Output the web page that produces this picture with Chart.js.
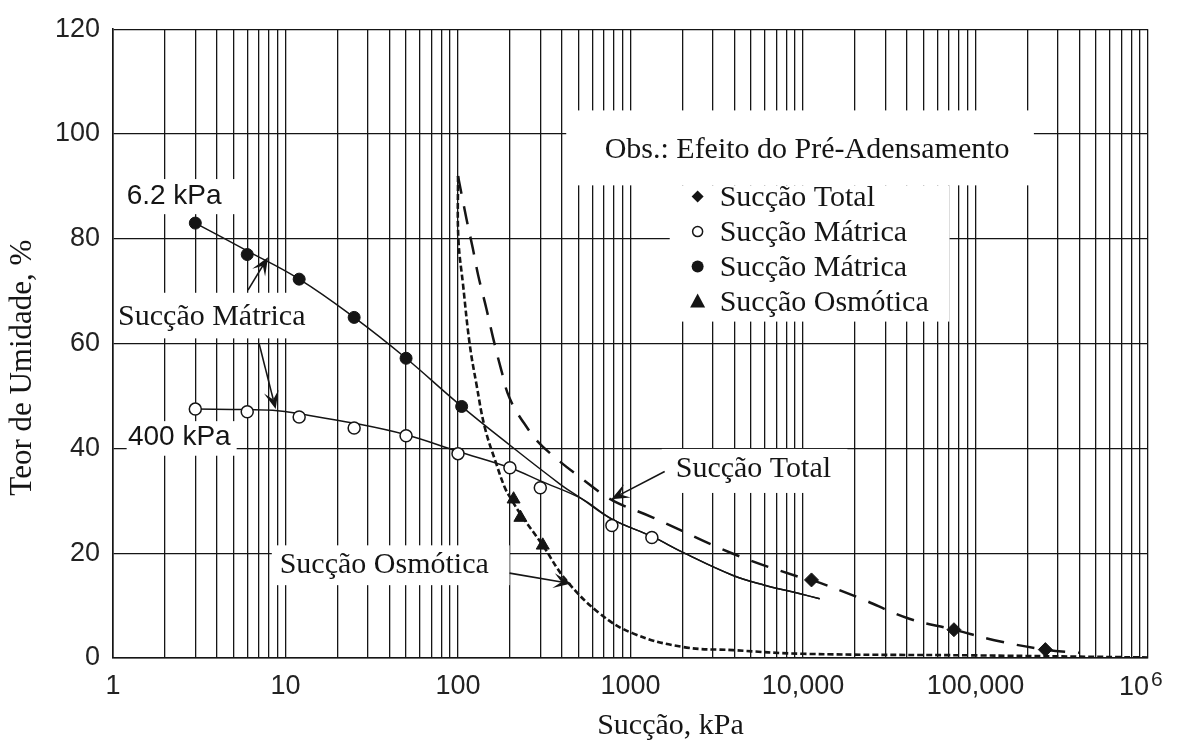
<!DOCTYPE html>
<html lang="pt">
<head>
<meta charset="utf-8">
<title>Teor de umidade x sucção</title>
<script src="https://cdn.jsdelivr.net/npm/chart.js@4.4.1/dist/chart.umd.min.js"></script>
<style>
  html, body { margin: 0; padding: 0; background: #fff; }
  #wrap { width: 1178px; height: 740px; }
</style>
</head>
<body>
<div id="wrap"><canvas id="suctionChart" width="1178" height="740"></canvas></div>
<script>
// Sucção mátrica, pré-adensamento 6.2 kPa (círculos cheios)
const matric62X = [3, 6, 12, 25, 50, 105];
const matric62Y = [83, 77, 72.3, 65, 57.2, 48];

// Sucção mátrica, pré-adensamento 400 kPa (círculos abertos)
const matric400X = [3, 6, 12, 25, 50, 100, 200, 300, 780, 1330];
const matric400Y = [47.5, 47, 46, 43.9, 42.4, 39, 36.3, 32.5, 25.3, 23];

// Sucção total (losangos)
const totalX = [11200, 75000, 254000];
const totalY = [14.9, 5.4, 1.6];

// Sucção osmótica (triângulos)
const osmoticX = [210, 230, 310];
const osmoticY = [30.3, 26.8, 21.5];

// Curvas traçadas
const matric62CurveX = [3, 6, 12, 25, 50, 100, 200, 390, 520, 780, 1330, 2000, 3900, 6000, 9500, 12500];
const matric62CurveY = [83, 77.7, 72.3, 65, 57.2, 48.6, 40.6, 33.2, 30.4, 26.5, 23.2, 20.2, 15.8, 13.9, 12.3, 11.3];
const matric400CurveX = [3, 6, 9, 12, 25, 50, 100, 200, 300, 520, 780, 1330, 2000, 3900, 6000, 9500, 12500];
const matric400CurveY = [47.5, 47.4, 47.2, 46.6, 44.8, 42.6, 39.4, 36.3, 33.8, 30.4, 26.5, 23.2, 20.2, 15.8, 13.9, 12.3, 11.3];
const totalCurveX = [100, 112, 122, 131, 146, 160, 179, 199, 244, 311, 612, 795, 1350, 3930, 9600, 11200, 20700, 41300, 75000, 128600, 254000, 401000];
const totalCurveY = [92, 83.8, 78.1, 73, 66.7, 61, 54.7, 49.6, 44.6, 40.3, 32.5, 30, 26.8, 19.9, 15.4, 14.9, 11.6, 7.5, 5.4, 3.4, 1.6, 1.0];
const osmoticCurveX = [100, 100.5, 107, 117, 128, 143, 167, 187, 201, 230, 310, 420, 663, 1033, 2015, 3930, 10000, 100000, 1000000];
const osmoticCurveY = [92, 80, 71.2, 59.8, 52.2, 44, 37, 32.5, 30.6, 27.5, 21.5, 15, 8.5, 4.7, 2.1, 1.5, 0.8, 0.5, 0.1];

// Eixos ("^" marks an exponent drawn as superscript)
const xTickDecades = [1, 10, 100, 1000, 10000, 100000, 1000000];
const xTickLabels = ["1", "10", "100", "1000", "10,000", "100,000", "10^6"];
const yTickLabels = [0, 20, 40, 60, 80, 100, 120];

// Legenda
const legendTitle = "Obs.: Efeito do Pré-Adensamento";
const legendLabels = ["Sucção Total", "Sucção Mátrica", "Sucção Mátrica", "Sucção Osmótica"];
const legendMarkers = ["diamond", "circleOpen", "circleFilled", "triangle"];

const INK = "#151515";
const SERIF = '"Liberation Serif", "Times New Roman", serif';
const SANS = '"Liberation Sans", Arial, sans-serif';
const TICK_SIZE = 27;
const TICK_PAD = 12;

// grid lines at every 1..9 x 10^n
const xGridValues = [];
xTickDecades.slice(0, -1).forEach((d) => {
  for (let m = 1; m < 10; m++) xGridValues.push(m * d);
});
xGridValues.push(1000000);

// Annotation texts (anchored in kPa / %)
const labels = [
  { text: "6.2 kPa", x: 1.2, y: 88.1, font: "28px " + SANS, baseline: "middle" },
  { text: "400 kPa", x: 1.22, y: 42.2, font: "28px " + SANS, baseline: "middle" },
  { text: "Sucção Mátrica", x: 1.07, y: 63.6, font: "30px " + SERIF, baseline: "alphabetic" },
  { text: "Sucção Total", x: 1828, y: 34.6, font: "30px " + SERIF, baseline: "alphabetic" },
  { text: "Sucção Osmótica", x: 9.25, y: 16.3, font: "30px " + SERIF, baseline: "alphabetic" },
];

// white patches behind labels and legend
const whiteBoxes = [
  { x0: 1.094, x1: 5.42, y0: 84.7, y1: 91.4 },
  { x0: 1.2, x1: 5.21, y0: 38.6, y1: 45.2 },
  { x0: 1.023, x1: 14.7, y0: 61.0, y1: 69.7 },
  { x0: 1517, x1: 18100, y0: 31.5, y1: 39.9 },
  { x0: 8.33, x1: 199, y0: 13.9, y1: 21.5 },
  { x0: 424, x1: 218000, y0: 90.2, y1: 104.5 },
  { x0: 1688, x1: 70700, y0: 64.2, y1: 90.2 },
];

// Arrows: from -> to
const arrows = [
  { x0: 6.06, y0: 70.2, x1: 7.92, y1: 76.5 },
  { x0: 7.02, y0: 60.1, x1: 8.77, y1: 47.5 },
  { x0: 1578, y0: 35.6, x1: 774, y1: 30.3 },
  { x0: 199, y0: 16.2, x1: 454, y1: 14.2 },
];

const legendAnchor = { x: 708, y: 95.5 };

function toPoints(xs, ys) {
  return xs.map((v, i) => ({ x: v, y: ys[i] }));
}

function splitExponent(label) {
  const [base, exp] = label.split("^");
  return { base, exp: exp || "" };
}

function drawArrow(ctx, x0, y0, x1, y1) {
  const a = Math.atan2(y1 - y0, x1 - x0);
  const c = Math.cos(a), s = Math.sin(a);
  const len = 18, half = 7.5, notch = 10;
  ctx.beginPath();
  ctx.moveTo(x0, y0);
  ctx.lineTo(x1 - c * notch, y1 - s * notch);
  ctx.stroke();
  ctx.beginPath();
  ctx.moveTo(x1, y1);
  ctx.lineTo(x1 - c * len - s * half, y1 - s * len + c * half);
  ctx.lineTo(x1 - c * notch, y1 - s * notch);
  ctx.lineTo(x1 - c * len + s * half, y1 - s * len - c * half);
  ctx.closePath();
  ctx.fill();
}

function drawMarker(ctx, type, cx, cy) {
  ctx.beginPath();
  if (type === "diamond") {
    ctx.moveTo(cx, cy - 6);
    ctx.lineTo(cx + 6, cy);
    ctx.lineTo(cx, cy + 6);
    ctx.lineTo(cx - 6, cy);
    ctx.closePath();
    ctx.fill();
  } else if (type === "circleOpen") {
    ctx.arc(cx, cy, 5, 0, Math.PI * 2);
    ctx.lineWidth = 1.5;
    ctx.stroke();
  } else if (type === "circleFilled") {
    ctx.arc(cx, cy, 6, 0, Math.PI * 2);
    ctx.fill();
  } else {
    ctx.moveTo(cx, cy - 8);
    ctx.lineTo(cx + 7.5, cy + 6);
    ctx.lineTo(cx - 7.5, cy + 6);
    ctx.closePath();
    ctx.fill();
  }
}

const annotationPlugin = {
  id: "annotations",
  beforeDatasetsDraw(chart) {
    const { ctx, scales: { x, y } } = chart;
    ctx.save();
    ctx.fillStyle = "#fff";
    whiteBoxes.forEach((b) => {
      const px0 = x.getPixelForValue(b.x0);
      const px1 = x.getPixelForValue(b.x1);
      const py0 = y.getPixelForValue(b.y1);
      const py1 = y.getPixelForValue(b.y0);
      ctx.fillRect(px0, py0, px1 - px0, py1 - py0);
    });
    ctx.restore();
  },
  afterDatasetsDraw(chart) {
    const { ctx, scales: { x, y } } = chart;
    ctx.save();
    ctx.fillStyle = INK;
    ctx.strokeStyle = INK;
    ctx.textAlign = "left";

    labels.forEach((l) => {
      ctx.font = l.font;
      ctx.textBaseline = l.baseline;
      ctx.fillText(l.text, x.getPixelForValue(l.x), y.getPixelForValue(l.y));
    });

    ctx.lineWidth = 1.6;
    arrows.forEach((a) => {
      drawArrow(ctx,
        x.getPixelForValue(a.x0), y.getPixelForValue(a.y0),
        x.getPixelForValue(a.x1), y.getPixelForValue(a.y1));
    });

    // legend block
    const lx = x.getPixelForValue(legendAnchor.x);
    const ly = y.getPixelForValue(legendAnchor.y);
    ctx.font = "30px " + SERIF;
    ctx.textBaseline = "alphabetic";
    ctx.fillText(legendTitle, lx, ly);
    legendLabels.forEach((t, i) => {
      const by = ly + 48 + i * 35;
      ctx.fillText(t, lx + 115, by);
      drawMarker(ctx, legendMarkers[i], lx + 93, by - 9);
    });
    ctx.restore();
  },
  afterDraw(chart) {
    const { ctx, chartArea, scales: { x } } = chart;
    ctx.save();
    ctx.fillStyle = "#222";

    // power-of-ten labels: base ends at the grid line, exponent raised after it
    ctx.textBaseline = "alphabetic";
    const baseY = chartArea.bottom + TICK_PAD + 25;
    xTickLabels.forEach((label, i) => {
      const { base, exp } = splitExponent(label);
      if (!exp) return;
      const px = x.getPixelForValue(xTickDecades[i]);
      ctx.textAlign = "right";
      ctx.font = TICK_SIZE + "px " + SANS;
      ctx.fillText(base, px + 1, baseY);
      ctx.textAlign = "left";
      ctx.font = "21px " + SANS;
      ctx.fillText(exp, px + 3, baseY - 9);
    });

    ctx.fillStyle = INK;
    ctx.textAlign = "center";
    ctx.textBaseline = "middle";
    ctx.font = "30px " + SERIF;
    ctx.fillText("Sucção, kPa", (chartArea.left + chartArea.right) / 2 + 40, chart.height - 14);
    ctx.translate(23, (chartArea.top + chartArea.bottom) / 2 + 24);
    ctx.rotate(-Math.PI / 2);
    ctx.font = "31px " + SERIF;
    ctx.fillText("Teor de Umidade, %", 0, 0);
    ctx.restore();
  },
};

function initializeChart() {
  const ctx = document.getElementById("suctionChart").getContext("2d");
  const curveStyle = {
    showLine: true,
    pointRadius: 0,
    borderColor: INK,
    borderWidth: 1.5,
    tension: 0.4,
    fill: false,
  };

  new Chart(ctx, {
    type: "scatter",
    data: {
      datasets: [
        {
          label: "Sucção Total",
          data: toPoints(totalX, totalY),
          pointStyle: "rectRot",
          pointRadius: 7,
          backgroundColor: INK,
          borderColor: INK,
        },
        {
          label: "Sucção Mátrica 400 kPa",
          data: toPoints(matric400X, matric400Y),
          pointStyle: "circle",
          pointRadius: 6,
          backgroundColor: "#fff",
          borderColor: INK,
          borderWidth: 1.5,
        },
        {
          label: "Sucção Mátrica 6.2 kPa",
          data: toPoints(matric62X, matric62Y),
          pointStyle: "circle",
          pointRadius: 6,
          backgroundColor: INK,
          borderColor: INK,
        },
        {
          label: "Sucção Osmótica",
          data: toPoints(osmoticX, osmoticY),
          pointStyle: "triangle",
          pointRadius: 7.5,
          backgroundColor: INK,
          borderColor: INK,
        },
        { ...curveStyle, label: "curva 6.2 kPa", data: toPoints(matric62CurveX, matric62CurveY) },
        { ...curveStyle, label: "curva 400 kPa", data: toPoints(matric400CurveX, matric400CurveY) },
        {
          ...curveStyle,
          label: "curva total",
          data: toPoints(totalCurveX, totalCurveY),
          borderWidth: 2.5,
          borderDash: [18, 13],
        },
        {
          ...curveStyle,
          label: "curva osmótica",
          data: toPoints(osmoticCurveX, osmoticCurveY),
          borderWidth: 2.6,
          borderDash: [6, 3],
        },
      ],
    },
    options: {
      responsive: false,
      animation: false,
      devicePixelRatio: 1,
      layout: { padding: { top: 27, right: 30, left: 0, bottom: 0 } },
      plugins: { legend: { display: false }, tooltip: { enabled: false } },
      scales: {
        x: {
          type: "logarithmic",
          min: 1,
          max: 1000000,
          afterBuildTicks: (axis) => {
            axis.ticks = xGridValues.map((v) => ({ value: v }));
          },
          afterFit: (axis) => {
            axis.height = 82;
          },
          grid: { color: INK, lineWidth: 1.3, drawTicks: false },
          border: { color: INK, width: 1.6 },
          ticks: {
            autoSkip: false,
            maxRotation: 0,
            padding: TICK_PAD,
            color: "#222",
            font: { family: SANS, size: TICK_SIZE },
            callback: (value) => {
              const i = xTickDecades.indexOf(value);
              if (i < 0) return "";
              // labels with an exponent are drawn by the plugin
              return splitExponent(xTickLabels[i]).exp ? "" : xTickLabels[i];
            },
          },
        },
        y: {
          type: "linear",
          min: 0,
          max: 120,
          afterBuildTicks: (axis) => {
            axis.ticks = yTickLabels.map((v) => ({ value: v }));
          },
          afterFit: (axis) => {
            axis.width = 113;
          },
          grid: { color: INK, lineWidth: 1.3, drawTicks: false },
          border: { color: INK, width: 1.6 },
          ticks: {
            padding: 13,
            color: "#222",
            font: { family: SANS, size: TICK_SIZE },
          },
        },
      },
    },
    plugins: [annotationPlugin],
  });
}

document.addEventListener("DOMContentLoaded", () => {
  initializeChart();
});
</script>
</body>
</html>
